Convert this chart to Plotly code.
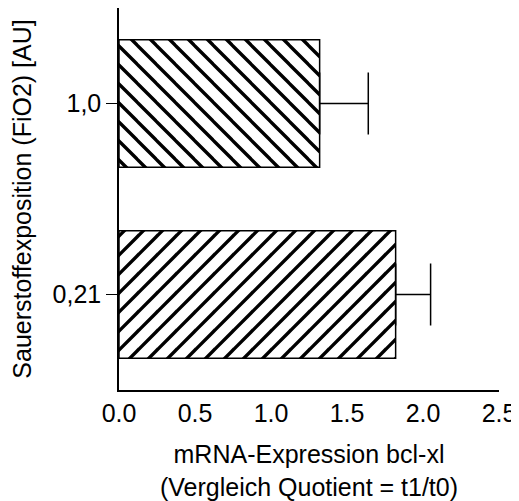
import plotly.graph_objects as go

categories = ["0,21", "1,0"]
values = [1.82, 1.32]
errors = [0.23, 0.32]
patterns = ["/", "\\"]
x_ticks = [0.0, 0.5, 1.0, 1.5, 2.0, 2.5]
x_tick_labels = ["0.0", "0.5", "1.0", "1.5", "2.0", "2.5"]

fig = go.Figure()
fig.add_trace(go.Bar(
    y=categories, x=values, orientation="h",
    marker=dict(color="white", line=dict(color="black", width=1.5),
                pattern=dict(shape=patterns, fgcolor="black", bgcolor="white",
                             fgopacity=1, size=13.435, solidity=0.25)),
    error_x=dict(type="data", array=errors, arrayminus=[0, 0], symmetric=False,
                 color="black", thickness=1.5, width=31),
    width=0.667,
))

font = "Liberation Sans, Arial, sans-serif"
fig.update_layout(
    width=511, height=493,
    margin=dict(l=111, r=20, t=0, b=111),
    paper_bgcolor="white", plot_bgcolor="white",
    showlegend=False,
    font=dict(family=font, size=25, color="black"),
    xaxis=dict(range=[0, 2.5], tickvals=x_ticks, ticktext=x_tick_labels,
               showline=True, linecolor="black", linewidth=1.5, showgrid=False,
               zeroline=False, ticks="", ticklen=0,
               tickfont=dict(size=25),
               title=dict(text="mRNA-Expression bcl-xl<br>(Vergleich Quotient = t1/t0)",
                          font=dict(size=25), standoff=20)),
    yaxis=dict(type="category", range=[-0.5, 1.5],
               showline=True, linecolor="black", linewidth=1.5, showgrid=False,
               ticks="outside", ticklen=11, tickwidth=1.2, tickcolor="black",
               tickfont=dict(size=25),
               title=dict(text="Sauerstoffexposition (FiO2) [AU]", font=dict(size=25), standoff=14)),
)

fig.write_html("out.html")
